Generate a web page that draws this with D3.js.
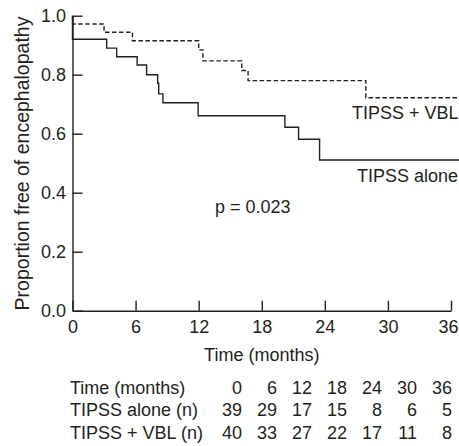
<!DOCTYPE html>
<html>
<head>
<meta charset="utf-8">
<script src="https://cdn.jsdelivr.net/npm/d3@7"></script>
<style>
  html, body { margin: 0; padding: 0; background: #fff; }
  svg { display: block; }
  text { font-family: "Liberation Sans", Arial, sans-serif; fill: #231f20; }
</style>
</head>
<body>
<script>
// ---- Data ----
const aloneTimes  = [0, 0, 3.25, 4.2, 6.15, 7.05, 8.1, 8.2, 8.6, 11.95, 20.2, 21.5, 23.5, 37];
const aloneValues = [1.0, 0.92, 0.89, 0.861, 0.833, 0.80, 0.771, 0.735, 0.705, 0.661, 0.622, 0.581, 0.511, 0.511];
const vblTimes    = [0, 0, 3.0, 5.7, 12.0, 12.4, 16.1, 16.7, 27.9, 37];
const vblValues   = [1.0, 0.972, 0.944, 0.915, 0.884, 0.847, 0.814, 0.780, 0.722, 0.722];

const xTicks = [0, 6, 12, 18, 24, 30, 36];
const yTicks = [0, 0.2, 0.4, 0.6, 0.8, 1.0];

const tableRowLabels = ["Time (months)", "TIPSS alone (n)", "TIPSS + VBL (n)"];
const tableTimes  = [0, 6, 12, 18, 24, 30, 36];
const atRiskAlone = [39, 29, 17, 15, 8, 6, 5];
const atRiskVBL   = [40, 33, 27, 22, 17, 11, 8];

const seriesLabels = ["TIPSS + VBL", "TIPSS alone"];
const pText = "p = 0.023";
const xTitle = "Time (months)";
const yTitle = "Proportion free of encephalopathy";

// ---- Layout ----
const W = 459, H = 446;
const ink = "#231f20";
const fs = 18;

const svg = d3.select("body").append("svg").attr("width", W).attr("height", H);

const x = d3.scaleLinear().domain([0, 36]).range([72.5, 451]);
const y = d3.scaleLinear().domain([0, 1]).range([310.7, 15.7]);

// Axes
const yAxis = d3.axisLeft(y).tickValues(yTicks).tickFormat(d3.format(".1f"))
  .tickSizeInner(-10).tickSizeOuter(0).tickPadding(6.5);
const xAxis = d3.axisBottom(x).tickValues(xTicks).tickFormat(d3.format("d"))
  .tickSizeInner(-10).tickSizeOuter(0).tickPadding(9.5);

const gy = svg.append("g").attr("transform", `translate(${x(0)},0)`).call(yAxis);
const gx = svg.append("g").attr("transform", `translate(0,${y(0)})`).call(xAxis);
[gy, gx].forEach(g => {
  g.attr("font-family", null).attr("font-size", null);
  g.selectAll("path.domain").attr("stroke", ink).attr("stroke-width", 1.4);
  g.selectAll(".tick line").attr("stroke", ink).attr("stroke-width", 1.4);
  g.selectAll(".tick text").style("font-size", fs + "px").attr("fill", ink);
});
// keep the last x tick label inside the frame
gx.selectAll(".tick text").each(function() {
  const bb = this.getBBox();
  const tr = this.parentNode.getAttribute("transform");
  const tx = +/translate\(([-\d.]+)/.exec(tr)[1];
  const right = tx + bb.x + bb.width;
  if (right > W - 0.5) d3.select(this).attr("dx", (W - 0.5) - right);
});

// Curves
const line = d3.line().x(d => x(d[0])).y(d => y(d[1])).curve(d3.curveStepAfter);
const aloneData = aloneTimes.map((t, i) => [t, aloneValues[i]]);
const vblData = vblTimes.map((t, i) => [t, vblValues[i]]);

svg.append("path").datum(vblData).attr("d", line)
  .attr("fill", "none").attr("stroke", ink).attr("stroke-width", 1.4)
  .attr("stroke-dasharray", "4.5,2.5");
svg.append("path").datum(aloneData).attr("d", line)
  .attr("fill", "none").attr("stroke", ink).attr("stroke-width", 1.4);

// Series labels (kept inside the right edge)
function fitLabel(txt, x0, y0) {
  const t = svg.append("text").attr("x", x0).attr("y", y0).style("font-size", fs + "px").text(txt);
  const w = t.node().getComputedTextLength();
  if (x0 + w > W - 0.5) t.attr("x", W - 0.5 - w);
  return t;
}
fitLabel(seriesLabels[0], 355, 119);
fitLabel(seriesLabels[1], 357, 182);

// p value
svg.append("text").attr("x", 215).attr("y", 213).style("font-size", fs + "px").text(pText);

// Axis titles
svg.append("text").attr("x", (x(0) + x(36)) / 2).attr("y", 361).attr("text-anchor", "middle")
  .style("font-size", fs + "px").text(xTitle);
svg.append("text").attr("transform", `translate(28.5,${(313 + 14) / 2}) rotate(-90)`)
  .attr("text-anchor", "middle").style("font-size", "19.5px").text(yTitle);

// At-risk table
const rowY = [394, 416, 438.5];
const rows = [tableTimes, atRiskAlone, atRiskVBL];
const colX = d3.scalePoint().domain(tableTimes).range([242, 452]);
tableRowLabels.forEach((lab, r) => {
  svg.append("text").attr("x", 70).attr("y", rowY[r]).style("font-size", fs + "px").text(lab);
  svg.append("g").selectAll("text").data(rows[r]).join("text")
    .attr("x", (d, i) => colX(tableTimes[i])).attr("y", rowY[r])
    .attr("text-anchor", "end").style("font-size", fs + "px").text(d => d);
});
</script>
</body>
</html>
